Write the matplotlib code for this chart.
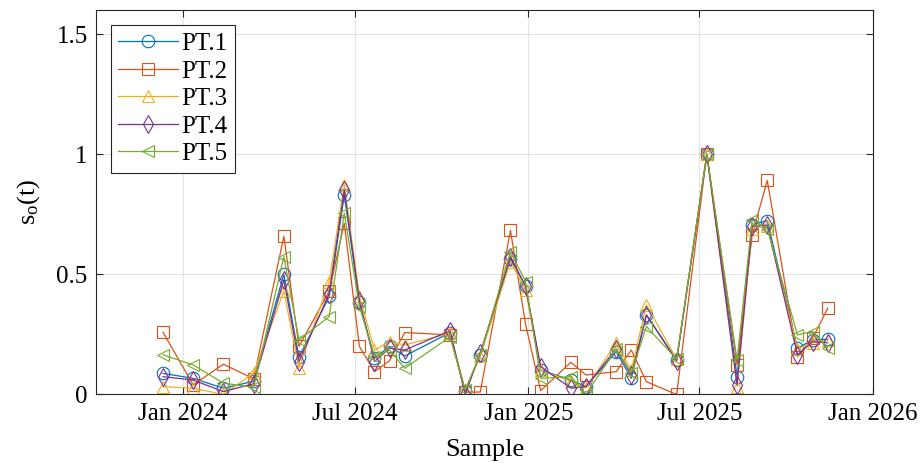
import matplotlib
matplotlib.use("Agg")
import matplotlib.pyplot as plt
import matplotlib.dates as mdates
import pandas as pd

# sample dates (16-day revisit)
dates = [
    "2023-12-11", "2024-01-12", "2024-02-13", "2024-03-16", "2024-04-17",
    "2024-05-03", "2024-06-04", "2024-06-20", "2024-07-06", "2024-07-22",
    "2024-08-07", "2024-08-23", "2024-10-10", "2024-10-26", "2024-11-11",
    "2024-12-13", "2024-12-29", "2025-01-14", "2025-02-15", "2025-03-03",
    "2025-04-04", "2025-04-20", "2025-05-06", "2025-06-07", "2025-07-09",
    "2025-08-10", "2025-08-26", "2025-09-11", "2025-10-13", "2025-10-29",
    "2025-11-14",
]

pt1 = [0.088, 0.067, 0.026, 0.055, 0.50, 0.155, 0.408, 0.831, 0.384, 0.151,
       0.20, 0.16, 0.258, 0.015, 0.165, 0.565, 0.452, 0.102, 0.06, 0.033,
       0.178, 0.067, 0.331, 0.144, 1.0, 0.074, 0.706, 0.724, 0.193, 0.227, 0.23]
pt2 = [0.259, 0.04, 0.126, 0.065, 0.658, 0.20, 0.43, 0.713, 0.20, 0.095,
       0.141, 0.258, 0.248, 0.01, 0.01, 0.683, 0.292, 0.016, 0.134, 0.081,
       0.095, 0.185, 0.053, 0.0, 1.0, 0.123, 0.665, 0.891, 0.158, 0.234, 0.359]
pt3 = [0.033, 0.026, 0.0, 0.09, 0.43, 0.11, 0.47, 0.873, 0.41, 0.185,
       0.22, 0.206, 0.255, 0.02, 0.16, 0.553, 0.435, 0.10, 0.055, 0.027,
       0.214, 0.10, 0.373, 0.147, 1.0, 0.033, 0.69, 0.70, 0.19, 0.215, 0.225]
pt4 = [0.074, 0.06, 0.012, 0.045, 0.477, 0.137, 0.42, 0.852, 0.39, 0.137,
       0.193, 0.185, 0.265, 0.0, 0.172, 0.574, 0.45, 0.116, 0.026, 0.033,
       0.19, 0.081, 0.331, 0.14, 1.0, 0.04, 0.70, 0.705, 0.165, 0.22, 0.215]
pt5 = [0.165, 0.123, 0.047, 0.03, 0.574, 0.227, 0.324, 0.755, 0.366, 0.158,
       0.185, 0.109, 0.24, 0.02, 0.165, 0.595, 0.47, 0.067, 0.074, 0.0,
       0.19, 0.09, 0.283, 0.147, 1.0, 0.144, 0.727, 0.69, 0.248, 0.262, 0.193]

labels = ["PT.1", "PT.2", "PT.3", "PT.4", "PT.5"]
series = [pt1, pt2, pt3, pt4, pt5]
colours = ["#0072BD", "#D95319", "#EDB120", "#7E2F8E", "#77AC30"]
markers = ["o", "s", "^", "d", "<"]

plt.rcParams["font.family"] = ["Liberation Serif", "DejaVu Serif"]
plt.rcParams["mathtext.fontset"] = "custom"
plt.rcParams["mathtext.rm"] = "Liberation Serif"
plt.rcParams["mathtext.it"] = "Liberation Serif"

x = pd.to_datetime(dates)

fig = plt.figure(figsize=(9.21, 4.63), dpi=100)
ax = fig.add_axes([0.1042, 0.148, 0.8437, 0.830])

for s, lab, c, m in zip(series, labels, colours, markers):
    ax.plot(x, s, color=c, marker=m, markersize=9, markerfacecolor="none",
            markeredgewidth=0.8, linewidth=0.9, label=lab)

ax.set_xlim(pd.Timestamp("2023-10-01"), pd.Timestamp("2026-01-01"))
ax.set_ylim(0, 1.6)
ax.set_yticks([0, 0.5, 1, 1.5])
ax.set_yticklabels(["0", "0.5", "1", "1.5"])
ax.xaxis.set_major_locator(mdates.MonthLocator(bymonth=[1, 7]))
ax.xaxis.set_major_formatter(mdates.DateFormatter("%b %Y"))

ax.grid(True, color="#e3e3e3", linewidth=0.8)
ax.set_axisbelow(True)
ax.tick_params(direction="in", length=5, width=0.8, top=True, right=True,
               labelsize=18, colors="#262626", labelcolor="black", pad=6)
for sp in ax.spines.values():
    sp.set_color("#262626")
    sp.set_linewidth(0.8)

ax.set_xlabel("Sample", fontsize=19, labelpad=10)
ax.set_ylabel(r"$\mathrm{s_o(t)}$", fontsize=19, labelpad=10)

leg = ax.legend(loc="upper left", fontsize=18, fancybox=False, framealpha=1,
                edgecolor="#262626", handlelength=2.4, handletextpad=0.1,
                borderpad=0.3, labelspacing=0.2, borderaxespad=0.6)
leg.get_frame().set_linewidth(0.8)

plt.savefig("out.png", dpi=100)
